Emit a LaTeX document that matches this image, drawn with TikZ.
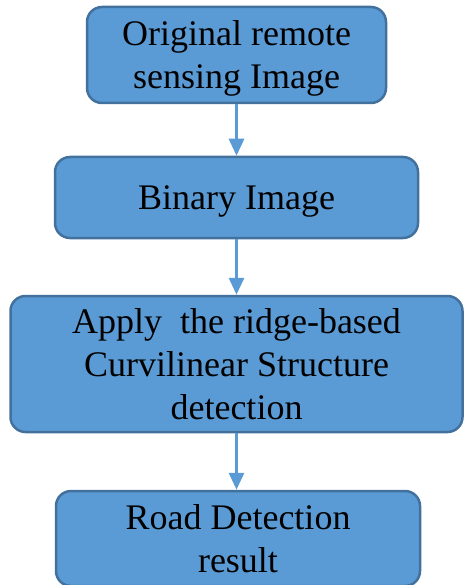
\documentclass[tikz,border=0pt]{standalone}
\usepackage{fontspec}
\setmainfont{Liberation Serif}
\usetikzlibrary{arrows.meta,positioning}
\definecolor{boxfill}{HTML}{5B9BD5}
\definecolor{boxline}{HTML}{41719C}
\tikzset{
  flowbox/.style={draw=boxline, fill=boxfill, line width=2.5pt, rounded corners=15pt, inner sep=0pt, align=center, font=\fontsize{36}{43}\selectfont},
  flowarrow/.style={-{Triangle[width=15pt,length=17pt]}, draw=boxfill, line width=3pt},
}

\begin{document}
\begin{tikzpicture}[x=1pt, y=-1pt]
\useasboundingbox (0,0) rectangle (464,585);
% process steps
\node[flowbox, minimum width=299pt, minimum height=96pt, text depth=0pt] (orig) at (236.5,55) {Original remote\\ sensing Image};
\node[flowbox, minimum width=363pt, minimum height=81pt, text depth=0pt] (bin) at (236.5,197.5) {Binary Image};
\node[flowbox, minimum width=452pt, minimum height=136pt] (ridge) at (236.5,364) {Apply\ \ the ridge-based\\ Curvilinear Structure\\ detection};
\node[flowbox, minimum width=364pt, minimum height=95pt] (road) at (238,538.5) {Road Detection\\ result};
% links
\draw[flowarrow] (orig.south) -- (bin.north);
\draw[flowarrow] (bin.south) -- (ridge.north);
\draw[flowarrow] (ridge.south) -- (ridge.south |- road.north);
\end{tikzpicture}
\end{document}
